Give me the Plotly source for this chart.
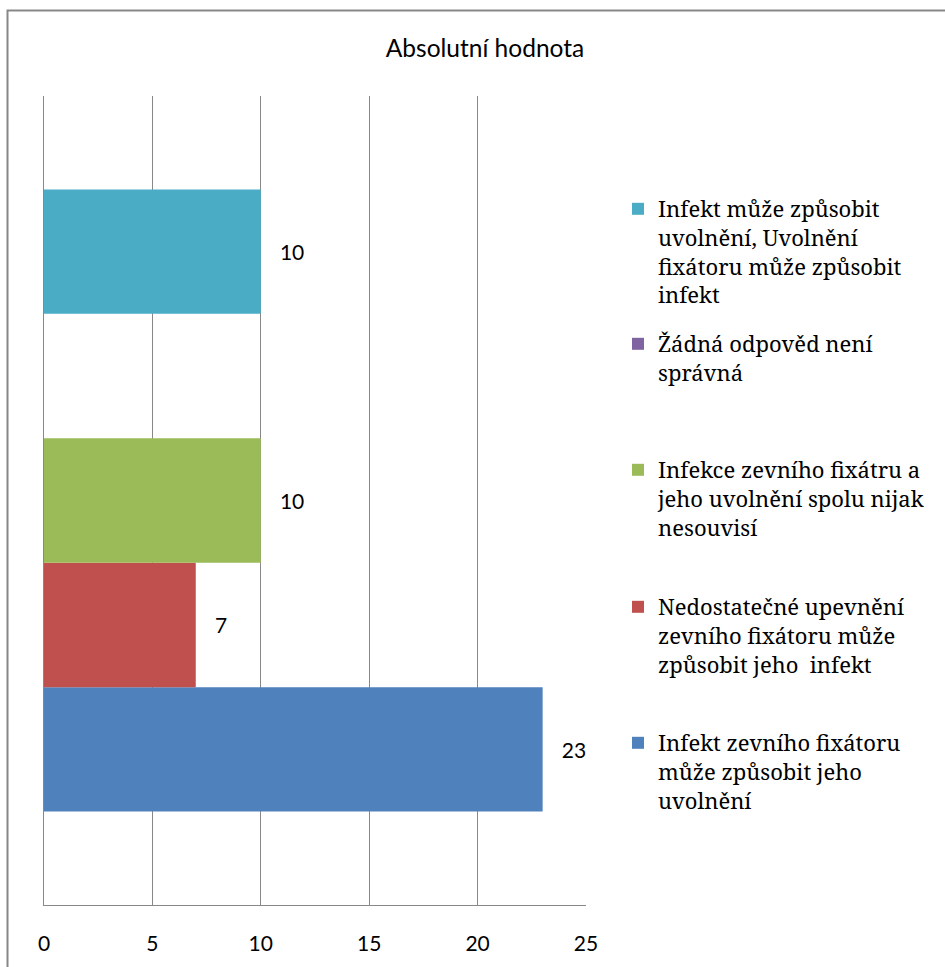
import plotly.graph_objects as go

category = [""]
series_names = [
    "Infekt zevního fixátoru<br>může způsobit jeho<br>uvolnění",
    "Nedostatečné upevnění<br>zevního fixátoru může<br>způsobit jeho  infekt",
    "Infekce zevního fixátru a<br>jeho uvolnění spolu nijak<br>nesouvisí",
    "Žádná odpověd není<br>správná",
    "Infekt může způsobit<br>uvolnění, Uvolnění<br>fixátoru může způsobit<br>infekt",
]
series_values = [23, 7, 10, None, 10]
series_colors = ["#4F81BD", "#C0504D", "#9BBB59", "#8064A2", "#4BACC6"]
x_ticks = [0, 5, 10, 15, 20, 25]

W, H = 945, 967
L, R, T, B = 44, 586, 96, 905


def px_x(p):
    return (p - L) / (R - L)


def px_y(p):
    return (B - p) / (B - T)


legend_tops = [722, 586, 449, 323, 188]
legend_ids = ["legend", "legend2", "legend3", "legend4", "legend5"]
SERIF = "Noto Serif"

fig = go.Figure()
for name, val, col, lid in zip(series_names, series_values, series_colors, legend_ids):
    fig.add_trace(go.Bar(
        y=category, x=[val], name=name, orientation="h",
        marker=dict(color=col, line=dict(width=0)),
        text=[val] if val is not None else None,
        texttemplate="\u00a0\u00a0\u00a0%{x}",
        textposition="outside",
        textfont=dict(family="Lato", size=21, color="#000000"),
        cliponaxis=False,
        legend=lid,
    ))

layout_legends = {}
for lid, top in zip(legend_ids, legend_tops):
    layout_legends[lid] = dict(
        font=dict(family=SERIF, size=22, color="#000000"),
        xanchor="left", yanchor="top", valign="top",
        bgcolor="rgba(0,0,0,0)", borderwidth=0,
        x=px_x(618), y=px_y(top),
    )

fig.update_layout(
    width=W, height=H,
    margin=dict(l=L, r=W - R, t=T, b=H - B, autoexpand=False),
    paper_bgcolor="white", plot_bgcolor="white",
    barmode="group", bargap=0.231, bargroupgap=0,
    showlegend=True,
    title=dict(text="Absolutní hodnota", x=px_x(485), xref="paper", xanchor="center",
               y=1 - 48 / H, yref="container", yanchor="middle",
               font=dict(family="Lato", size=24.5, color="#000000")),
    xaxis=dict(range=[0, 25], tickvals=x_ticks, showgrid=True, gridcolor="#888888", gridwidth=1,
               showline=True, linecolor="#888888", linewidth=1, zeroline=False,
               ticks="", ticklabelstandoff=20,
               tickfont=dict(family="Lato", size=21, color="#000000")),
    yaxis=dict(showticklabels=False, showgrid=False, zeroline=False, showline=True,
               linecolor="#888888", linewidth=1, ticks=""),
    shapes=[dict(type="rect", xref="paper", yref="paper",
                 x0=px_x(7.5), x1=px_x(990), y0=px_y(1000), y1=px_y(10.5),
                 line=dict(color="#888888", width=2), fillcolor="rgba(0,0,0,0)", layer="below")],
    **layout_legends,
)

fig.write_html("out.html")
